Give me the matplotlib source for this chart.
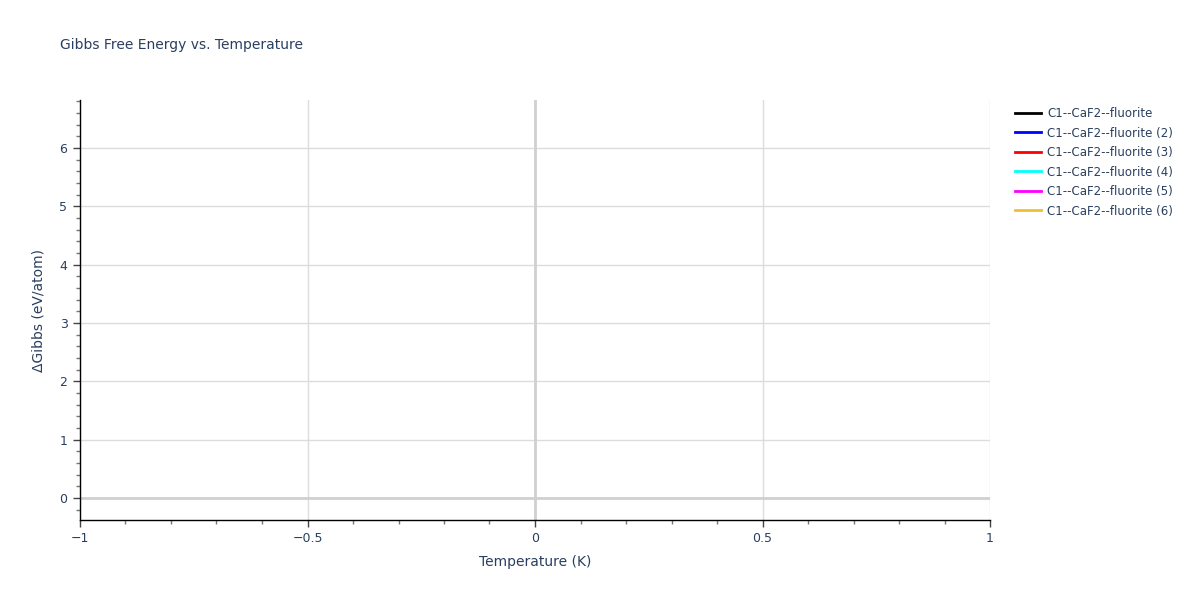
import matplotlib
matplotlib.use("Agg")
import matplotlib.pyplot as plt
from matplotlib.ticker import MultipleLocator

# Data (all traces are empty in the reference)
temperature = []
series_names = [
    "C1--CaF2--fluorite",
    "C1--CaF2--fluorite (2)",
    "C1--CaF2--fluorite (3)",
    "C1--CaF2--fluorite (4)",
    "C1--CaF2--fluorite (5)",
    "C1--CaF2--fluorite (6)",
]
series_values = [[], [], [], [], [], []]
series_colors = ["#000000", "#0000ff", "#ff0000", "#00ffff", "#ff00ff", "#f0c030"]

x_ticks = [-1, -0.5, 0, 0.5, 1]
x_tick_labels = ["\u22121", "\u22120.5", "0", "0.5", "1"]
y_ticks = [0, 1, 2, 3, 4, 5, 6]

text_color = "#2a3f5f"
plt.rcParams["font.family"] = ["DejaVu Sans"]

fig = plt.figure(figsize=(12, 6), dpi=100)
ax = fig.add_axes([80 / 1200, 80 / 600, 910 / 1200, 420 / 600])

for name, vals, col in zip(series_names, series_values, series_colors):
    ax.plot(temperature, vals, color=col, lw=2, label=name)

ax.set_xlim(-1, 1)
ax.set_ylim(-0.377, 6.823)

ax.set_xticks(x_ticks)
ax.set_xticklabels(x_tick_labels)
ax.set_yticks(y_ticks)
ax.xaxis.set_minor_locator(MultipleLocator(0.1))
ax.yaxis.set_minor_locator(MultipleLocator(0.2))

ax.grid(True, which="major", color="#dcdcdc", lw=1)
ax.axhline(0, color="#d0d0d0", lw=2, zorder=1)
ax.axvline(0, color="#d0d0d0", lw=2, zorder=1)
ax.set_axisbelow(True)

for s in ["top", "right"]:
    ax.spines[s].set_visible(False)
for s in ["left", "bottom"]:
    ax.spines[s].set_color("#000000")
    ax.spines[s].set_linewidth(1)

ax.tick_params(which="major", direction="out", length=5, width=1, color="#444444",
               labelcolor=text_color, labelsize=9, pad=4)
ax.tick_params(which="minor", direction="out", length=3, width=1, color="#777777")

ax.set_xlabel("Temperature (K)", color=text_color, fontsize=10, labelpad=7)
ax.set_ylabel("\u0394Gibbs (eV/atom)", color=text_color, fontsize=10, labelpad=10)

fig.text(60 / 1200, 1 - 45 / 600, "Gibbs Free Energy vs. Temperature", color=text_color,
         fontsize=10, ha="left", va="center")

leg = ax.legend(loc="upper left", bbox_to_anchor=(1.02, 1.0), frameon=False,
                fontsize=8.5, labelcolor=text_color, handlelength=2.2,
                handletextpad=0.5, labelspacing=0.55, borderaxespad=0.2)

fig.savefig("out.png", dpi=100, facecolor="white")
